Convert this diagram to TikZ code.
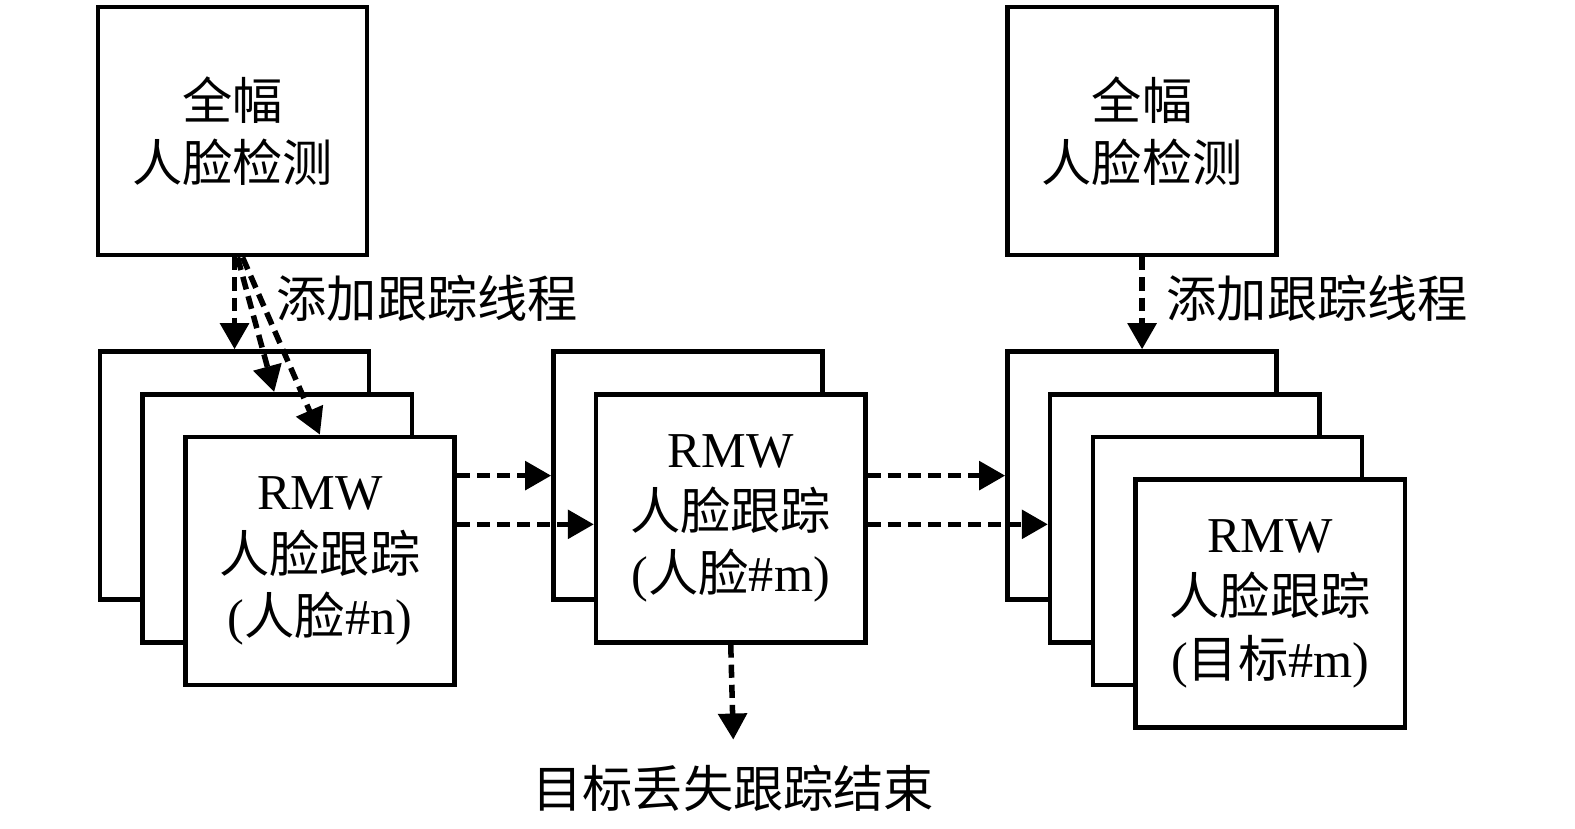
\documentclass[tikz,border=0pt]{standalone}
\usepackage{fontspec}
\setmainfont{Liberation Serif}
\newfontfamily\cjk{Noto Sans CJK SC}
\usetikzlibrary{arrows.meta}
\newcommand\zh[1]{{\cjk #1}}
\newcommand\bigtxt{\fontsize{50}{62}\selectfont}

\begin{document}
\begin{tikzpicture}[x=1pt, y=-1pt,
  every node/.style={font=\bigtxt},
  panel/.style={draw, line width=4.5pt, fill=white, minimum width=268pt,
    minimum height=247pt, inner sep=0pt, align=center},
  flow/.style={line width=5.5pt, dash pattern=on 13pt off 7pt,
    -{Triangle[length=26pt,width=28pt]}}]
  \useasboundingbox (0,0) rectangle (1568,825);

  \node[panel, font=\bigtxt\cjk] (det1) at (231.5,130.5) {全幅\\人脸检测};
  \node[panel, font=\bigtxt\cjk] (det2) at (1137,130.5) {全幅\\人脸检测};

  \node[panel] (lb) at (233.5,473.5) {};
  \node[panel] (lm) at (276,516) {};
  \node[panel] (lf) at (318.5,558.5) {RMW\\\zh{人脸跟踪}\\(\zh{人脸}\#n)};

  \node[panel] (mb) at (685,473.5) {};
  \node[panel] (mf) at (727.5,516) {RMW\\\zh{人脸跟踪}\\(\zh{人脸}\#m)};

  \foreach \i/\n in {0/rb,1/r2,2/r3}{\node[panel] (\n) at (1137+42.5*\i,473.5+42.5*\i) {};}
  \node[panel] (rf) at (1264.5,601) {RMW\\\zh{人脸跟踪}\\(\zh{目标}\#m)};

  \node[anchor=west, font=\bigtxt\cjk] (add1) at (272,297) {添加跟踪线程};
  \node[anchor=west, font=\bigtxt\cjk] (add2) at (1158,297) {添加跟踪线程};
  \node[font=\bigtxt\cjk] (lost) at (730,785) {目标丢失跟踪结束};

  \draw[flow] (det1.south -| lb.north) -- (lb.north);
  \draw[flow] ([xshift=5pt]det1.south) -- ([xshift=-3pt]lm.north);
  \draw[flow] ([xshift=10pt]det1.south) -- (lf.north);
  \draw[flow] (lf.east |- mb.west) -- (mb.west);
  \draw[flow] ([yshift=-6pt]lf.east |- mf.west) -- ([yshift=-6pt]mf.west);
  \draw[flow] (mf.east |- rb.west) -- (rb.west);
  \draw[flow] ([yshift=-6pt]mf.east |- r2.west) -- ([yshift=-6pt]r2.west);
  \draw[flow] (mf.south) -- ([yshift=22pt]lost.north);
  \draw[flow] (det2.south) -- (rb.north);
\end{tikzpicture}
\end{document}
